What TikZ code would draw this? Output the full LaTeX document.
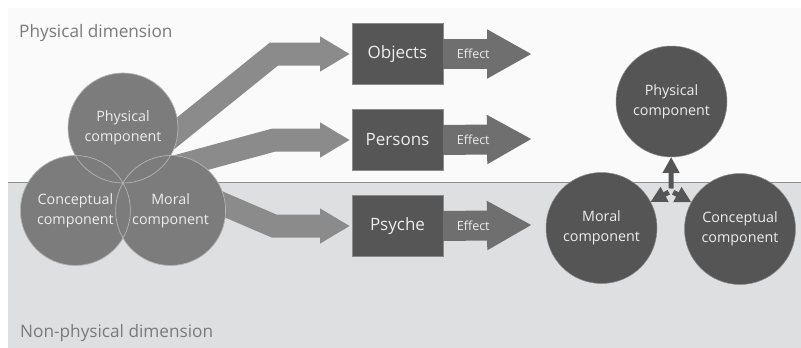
\documentclass[tikz,border=0pt]{standalone}
\usepackage{fontspec}
\setmainfont{Open Sans}
\usetikzlibrary{arrows.meta}
\definecolor{bgtop}{HTML}{FAFAFA}
\definecolor{bgbot}{HTML}{DEDFE0}
\definecolor{divline}{HTML}{8E8E8E}
\definecolor{dimtext}{HTML}{7A7A7A}
\definecolor{lcircfill}{HTML}{7C7C7C}
\definecolor{lcircline}{HTML}{B4B4B4}
\definecolor{bigarrow}{HTML}{8B8B8B}
\definecolor{boxfill}{HTML}{565656}
\definecolor{boxline}{HTML}{8A8A8A}
\definecolor{effectfill}{HTML}{6F6F6F}
\definecolor{rcircfill}{HTML}{555555}
\definecolor{lighttext}{HTML}{EDEDED}
\begin{document}
\begin{tikzpicture}[x=1pt,y=-1pt,
  dimlabel/.style={text=dimtext, font=\fontsize{17.2}{20}\selectfont, anchor=west, inner sep=0},
  lcirc/.style={circle, fill=lcircfill, minimum size=110pt, inner sep=0, outer sep=0,
    text=lighttext, align=center, font=\fontsize{14.3}{20}\selectfont},
  rcirc/.style={circle, fill=rcircfill, draw=boxline, line width=0.5pt, minimum size=111pt, inner sep=0, outer sep=0,
    text=lighttext, align=center, font=\fontsize{14.3}{20}\selectfont},
  boxnode/.style={rectangle, fill=boxfill, draw=boxline, line width=0.6pt, minimum width=91pt,
    minimum height=61pt, inner sep=0, outer sep=0, text=lighttext, font=\fontsize{17}{19}\selectfont},
  bigarr/.style={draw=bigarrow, line width=23pt, line join=miter,
    -{Triangle[length=30pt,width=33pt]}, color=bigarrow},
  effarr/.style={draw=effectfill, color=effectfill, line width=30pt,
    -{Triangle[length=45pt,width=46pt]}},
  efflabel/.style={text=lighttext, font=\fontsize{12.5}{14}\selectfont, inner sep=0},
  triarr/.style={draw=rcircfill, color=rcircfill, line width=5pt, shorten <=2.5pt,
    -{Triangle[length=16pt,width=16pt]}}
]
\useasboundingbox (0,0) rectangle (801,348);
% background panels
\fill[bgtop] (8,8) rectangle (801,182);
\fill[bgbot] (8,182) rectangle (801,348);
\draw[divline, line width=1pt] (8,182) -- (801,182);
\node[dimlabel] (physdim) at (19,33) {Physical dimension};
\node[dimlabel] (nonphysdim) at (20,333) {Non-physical dimension};

% boxes
\node[boxnode] (objects) at (397.5,54) {Objects};
\node[boxnode] (persons) at (397.5,140) {Persons};
\node[boxnode] (psyche) at (397.5,226) {Psyche};

% big arrows (under the circles)
\coordinate (s1) at (150,154);
\coordinate (k1) at (274,54);
\coordinate (s2) at (160,171);
\coordinate (k2) at (274,140);
\coordinate (s3) at (190,190);
\coordinate (k3) at (274,226);
\draw[bigarr] (s1) -- (k1) -- ([xshift=-2pt]objects.west);
\draw[bigarr] (s2) -- (k2) -- ([xshift=-2pt]persons.west);
\draw[bigarr] (s3) -- (k3) -- ([xshift=-2pt]psyche.west);

% left circles
\node[lcirc] (lphys) at (123,128) {Physical\\component};
\node[lcirc] (lconc) at (75.4,210.5) {Conceptual\\component};
\node[lcirc] (lmoral) at (170.6,210.5) {Moral\\component};
\foreach \c in {lphys,lconc,lmoral}
  \draw[lcircline, line width=0.7pt] (\c.center) circle[radius=55];

% effect arrows
\coordinate (t1) at (532,54);
\coordinate (t2) at (532,139);
\coordinate (t3) at (532,225);
\draw[effarr] (objects.east) -- (t1) node[efflabel, pos=0.34] (e1) {Effect};
\draw[effarr] (persons.east) -- (t2) node[efflabel, pos=0.34] (e2) {Effect};
\draw[effarr] (psyche.east) -- (t3) node[efflabel, pos=0.34] (e3) {Effect};

% right circles
\node[rcirc] (rphys) at (671.5,101.5) {Physical\\component};
\node[rcirc] (rmoral) at (601.5,228) {Moral\\component};
\node[rcirc] (rconc) at (740,229) {Conceptual\\component};
\coordinate (hub) at (671,191);
\draw[triarr] (hub) -- (rphys);
\draw[triarr] (hub) -- (rmoral);
\draw[triarr] (hub) -- (rconc);
\end{tikzpicture}
\end{document}
